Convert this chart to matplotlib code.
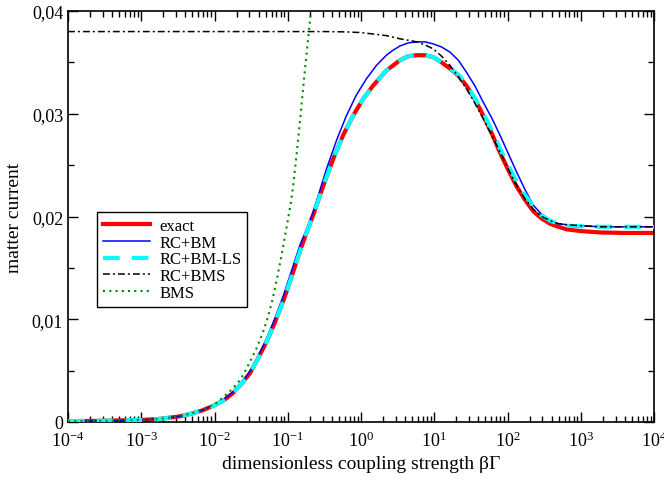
import numpy as np
import matplotlib
matplotlib.use("Agg")
import matplotlib.pyplot as plt
from matplotlib.ticker import FixedLocator, LogLocator, FuncFormatter, LogFormatterMathtext

plt.rcParams["font.family"] = ["Liberation Serif", "DejaVu Serif"]
plt.rcParams["mathtext.fontset"] = "custom"
plt.rcParams["mathtext.rm"] = "Liberation Serif"
plt.rcParams["mathtext.it"] = "Liberation Serif:italic"

# log10(beta Gamma) and matter current
lx_exact = [-4.0, -3.5, -3.0, -2.75, -2.5, -2.33, -2.17, -2.0, -1.875, -1.75, -1.635,
            -1.52, -1.405, -1.29, -1.175, -1.06, -0.945, -0.83, -0.74, -0.65, -0.515,
            -0.38, -0.245, -0.11, 0.025, 0.16, 0.345, 0.53, 0.645, 0.76, 0.875, 0.99,
            1.1, 1.215, 1.33, 1.443, 1.556, 1.67, 1.784, 1.898, 2.012, 2.126, 2.24,
            2.352, 2.466, 2.58, 2.694, 2.808, 3.0, 3.263, 3.6, 4.0]
exact = [0.00008, 0.00012, 0.0002, 0.0003, 0.00052, 0.00078, 0.00112, 0.00163, 0.0021,
         0.0028, 0.0037, 0.0047, 0.0062, 0.0078, 0.0097, 0.0118, 0.0142, 0.0167, 0.0185,
         0.0202, 0.023, 0.0256, 0.0279, 0.0298, 0.0314, 0.0327, 0.0342, 0.0352, 0.0356,
         0.0357, 0.0357, 0.0355, 0.035, 0.0344, 0.0337, 0.0327, 0.0314, 0.0298, 0.0281,
         0.0262, 0.0245, 0.0229, 0.0216, 0.0205, 0.0198, 0.0193, 0.019, 0.01875,
         0.01858, 0.01845, 0.0184, 0.0184]

lx_rcbm = [-4.0, -3.5, -3.0, -2.75, -2.5, -2.33, -2.17, -2.0, -1.875, -1.75, -1.635,
           -1.52, -1.405, -1.29, -1.175, -1.06, -0.945, -0.83, -0.74, -0.65, -0.473,
           -0.335, -0.2, -0.065, 0.073, 0.21, 0.346, 0.44, 0.532, 0.646, 0.76, 0.875,
           0.987, 1.1, 1.215, 1.33, 1.443, 1.556, 1.67, 1.784, 1.898, 2.012, 2.126, 2.24,
           2.352, 2.466, 2.58, 2.694, 2.808, 3.0, 3.263, 4.0]
rcbm = [0.00008, 0.00012, 0.0002, 0.0003, 0.00053, 0.0008, 0.00115, 0.00168, 0.0022,
        0.0029, 0.0038, 0.0049, 0.0064, 0.0081, 0.0101, 0.0123, 0.0148, 0.0173, 0.0188,
        0.0205, 0.0246, 0.0274, 0.0298, 0.0318, 0.0334, 0.0347, 0.0357, 0.0362, 0.0366,
        0.0369, 0.037, 0.037, 0.0368, 0.0365, 0.036, 0.0352, 0.034, 0.0327, 0.0311,
        0.0296, 0.0279, 0.0261, 0.0243, 0.0226, 0.0211, 0.0202, 0.0196, 0.0193, 0.0192,
        0.0191, 0.019, 0.019]

lx_rcbmls = [-4.0, -3.5, -3.0, -2.75, -2.5, -2.33, -2.17, -2.0, -1.875, -1.75, -1.635,
             -1.52, -1.405, -1.29, -1.175, -1.06, -0.945, -0.83, -0.74, -0.65, -0.515,
             -0.38, -0.245, -0.11, 0.025, 0.16, 0.345, 0.53, 0.645, 0.76, 0.875, 0.99,
             1.1, 1.215, 1.33, 1.443, 1.556, 1.67, 1.784, 1.898, 2.012, 2.126, 2.24,
             2.352, 2.466, 2.58, 2.694, 2.808, 3.0, 3.263, 4.0]
rcbmls = [0.00008, 0.00012, 0.0002, 0.0003, 0.00052, 0.00078, 0.00112, 0.00163, 0.0021,
          0.0028, 0.0037, 0.0047, 0.0062, 0.0078, 0.0097, 0.0118, 0.0142, 0.0167, 0.0185,
          0.0202, 0.023, 0.0256, 0.0279, 0.0298, 0.0314, 0.0327, 0.0342, 0.0352, 0.0356,
          0.0357, 0.0357, 0.0355, 0.035, 0.0344, 0.0338, 0.0328, 0.0315, 0.03, 0.0284,
          0.0266, 0.0249, 0.0234, 0.0221, 0.021, 0.0201, 0.0196, 0.0193, 0.0191, 0.01905,
          0.019, 0.019]

lx_rcbms = [-4.0, -1.0, -0.5, -0.2, 0.0, 0.18, 0.35, 0.53, 0.65, 0.76, 0.875, 0.99, 1.1,
            1.215, 1.33, 1.443, 1.556, 1.67, 1.784, 1.898, 2.012, 2.126, 2.24, 2.352,
            2.466, 2.58, 2.694, 2.808, 3.0, 3.263, 4.0]
rcbms = [0.038, 0.038, 0.038, 0.03797, 0.0379, 0.03775, 0.0376, 0.0373, 0.03715, 0.037,
         0.0367, 0.0363, 0.0356, 0.0347, 0.0336, 0.0324, 0.031, 0.0295, 0.0279, 0.0263,
         0.0246, 0.023, 0.0217, 0.0207, 0.02, 0.0196, 0.0193, 0.0192, 0.0191, 0.019,
         0.019]

lx_bms = [-4.0, -3.5, -3.0, -2.75, -2.5, -2.33, -2.17, -2.0, -1.9, -1.79, -1.72, -1.65,
          -1.585, -1.52, -1.43, -1.34, -1.27, -1.205, -1.14, -1.07, -1.01, -0.956,
          -0.924, -0.88, -0.833, -0.79, -0.741, -0.683, -0.64]
bms = [0.00008, 0.00012, 0.0002, 0.0003, 0.00053, 0.0008, 0.00118, 0.0017, 0.0023, 0.003,
       0.0035, 0.0041, 0.0049, 0.0058, 0.0071, 0.0087, 0.0102, 0.012, 0.0142, 0.0168,
       0.0192, 0.0214, 0.0231, 0.026, 0.0293, 0.0325, 0.036, 0.04, 0.043]

y_ticks = [0, 0.01, 0.02, 0.03, 0.04]
y_labels = ["0", "0,01", "0,02", "0,03", "0,04"]

fig = plt.figure(figsize=(6.64, 4.81), dpi=100)
ax = fig.add_axes([0.1024, 0.1206, 0.8826, 0.8544])

ax.plot(10 ** np.array(lx_exact), exact, color="#ff0000", lw=3.0, label="exact", zorder=2)
ax.plot(10 ** np.array(lx_rcbm), rcbm, color="#0000ff", lw=1.1, label="RC+BM", zorder=3)
ax.plot(10 ** np.array(lx_rcbmls), rcbmls, color="#00ffff", lw=3.0, dashes=(4, 2.9),
        label="RC+BM-LS", zorder=4)
ax.plot(10 ** np.array(lx_rcbms), rcbms, color="black", lw=1.1, dashes=(4.5, 2, 1.3, 2),
        label="RC+BMS", zorder=5)
ax.plot(10 ** np.array(lx_bms), bms, color="#008b00", lw=1.5, dashes=(1, 2),
        label="BMS", zorder=6)

ax.set_xscale("log")
ax.set_xlim(1e-4, 1e4)
ax.set_ylim(0, 0.04)
ax.xaxis.set_major_locator(LogLocator(base=10, numticks=20))
ax.xaxis.set_minor_locator(LogLocator(base=10, subs=np.arange(2, 10), numticks=20))
ax.xaxis.set_major_formatter(LogFormatterMathtext())
ax.yaxis.set_major_locator(FixedLocator(y_ticks))
ax.yaxis.set_major_formatter(FuncFormatter(lambda v, p: y_labels[y_ticks.index(round(v, 2))]))
ax.yaxis.set_minor_locator(FixedLocator([0.005, 0.015, 0.025, 0.035]))

ax.tick_params(which="both", direction="in", top=True, right=True, width=1.0,
               labelsize=13)
ax.tick_params(which="major", length=7.5)
ax.tick_params(which="minor", length=4)
ax.tick_params(axis="x", pad=6)
for s in ax.spines.values():
    s.set_linewidth(1.2)

ax.set_xlabel("dimensionless coupling strength βΓ", fontsize=14, labelpad=4)
ax.set_ylabel("matter current", fontsize=14, labelpad=6)

leg = ax.legend(loc="lower left", bbox_to_anchor=(0.0495, 0.28), borderaxespad=0,
                fancybox=False, edgecolor="black", framealpha=1, fontsize=12,
                handlelength=2.8, handletextpad=0.6, labelspacing=0.05, borderpad=0.35)
leg.get_frame().set_linewidth(1.0)

plt.savefig("out.png", dpi=100)
